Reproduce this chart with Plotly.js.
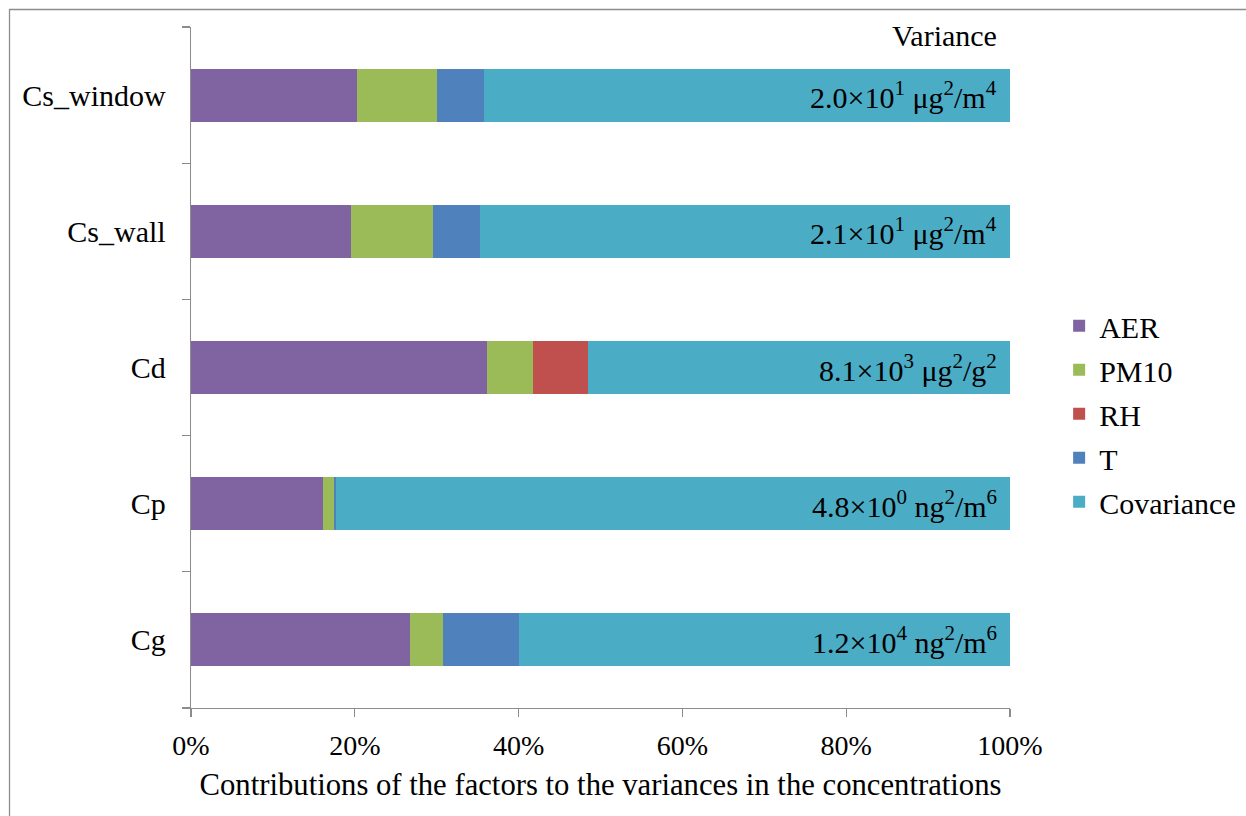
<!DOCTYPE html>
<html><head><meta charset="utf-8">
<script src="https://cdn.plot.ly/plotly-3.0.1.min.js"></script>
<style>html,body{margin:0;padding:0;background:#fff;}#chart{width:1246px;height:816px;}</style>
</head><body><div id="chart"></div>
<script>
const categories = ["Cg", "Cp", "Cd", "Cs_wall", "Cs_window"];
const AER = [26.7, 16.1, 36.2, 19.5, 20.3];
const PM10 = [4.1, 1.4, 5.5, 10.0, 9.7];
const RH = [0, 0, 6.8, 0, 0];
const T = [9.3, 0.2, 0, 5.8, 5.8];
const Covariance = [59.9, 82.3, 51.5, 64.7, 64.2];
const varianceLabels = [
  "1.2×10<sup>4</sup> ng<sup>2</sup>/m<sup>6</sup>",
  "4.8×10<sup>0</sup> ng<sup>2</sup>/m<sup>6</sup>",
  "8.1×10<sup>3</sup> μg<sup>2</sup>/g<sup>2</sup>",
  "2.1×10<sup>1</sup> μg<sup>2</sup>/m<sup>4</sup>",
  "2.0×10<sup>1</sup> μg<sup>2</sup>/m<sup>4</sup>"
];
const xTickVals = [0, 20, 40, 60, 80, 100];
const xTickText = ["0%", "20%", "40%", "60%", "80%", "100%"];

const series = [
  {name: "AER", values: AER, color: "#8064A2"},
  {name: "PM10", values: PM10, color: "#9BBB59"},
  {name: "RH", values: RH, color: "#C0504D"},
  {name: "T", values: T, color: "#4F81BD"},
  {name: "Covariance", values: Covariance, color: "#4BACC6"}
];

const font = "Liberation Serif";
const traces = series.map(s => ({
  type: "bar", orientation: "h", name: s.name, legendgroup: s.name,
  x: s.values, y: categories,
  marker: {color: s.color, line: {width: 0}},
  hoverinfo: "x+name"
}));

const annotations = categories.map((c, i) => ({
  x: 98.6, y: c, xref: "x", yref: "y", xanchor: "right", yanchor: "middle",
  text: varianceLabels[i], showarrow: false,
  font: {family: font, size: 30, color: "#000"}
}));
annotations.push({
  x: 98.6, y: 0.987, xref: "x", yref: "paper", xanchor: "right", yanchor: "middle",
  text: "Variance", showarrow: false,
  font: {family: font, size: 30, color: "#000"}
});

const layout = {
  width: 1246, height: 816,
  margin: {l: 191, r: 236, t: 27, b: 108, autoexpand: false},
  paper_bgcolor: "#fff", plot_bgcolor: "#fff",
  barmode: "stack", bargap: 0.61,
  font: {family: font, size: 30, color: "#000"},
  showlegend: true,
  legend: {
    x: 1.06, y: 0.432, xanchor: "left", yanchor: "middle",
    traceorder: "grouped", font: {family: font, size: 30},
    itemwidth: 30, tracegroupgap: 2
  },
  xaxis: {
    range: [0, 100], tickvals: xTickVals, ticktext: xTickText,
    showgrid: false, zeroline: false,
    showline: true, linecolor: "#8c8c8c", linewidth: 1.3,
    ticks: "outside", ticklen: 8, tickcolor: "#8c8c8c", tickwidth: 1.3,
    tickfont: {family: font, size: 28},
    ticklabelstandoff: 4,
    title: {text: "Contributions of the factors to the variances in the concentrations",
            font: {family: font, size: 30.7}, standoff: 13},
    fixedrange: true
  },
  yaxis: {
    type: "category", categoryorder: "array", categoryarray: categories,
    showgrid: false, zeroline: false,
    showline: true, linecolor: "#8c8c8c", linewidth: 1.3,
    ticks: "outside", tickson: "boundaries", ticklen: 8, tickcolor: "#8c8c8c", tickwidth: 1.3,
    tickfont: {family: font, size: 30},
    ticklabelstandoff: 18,
    fixedrange: true
  },
  annotations: annotations,
  shapes: [{
    type: "rect", xref: "paper", yref: "paper",
    x0: -0.2216, x1: 1.3, y0: -0.2, y1: 1.0257,
    line: {color: "#8c8c8c", width: 1.3}, fillcolor: "rgba(0,0,0,0)", layer: "below"
  }]
};

Plotly.newPlot("chart", traces, layout, {displayModeBar: false, staticPlot: true});
</script></body></html>
